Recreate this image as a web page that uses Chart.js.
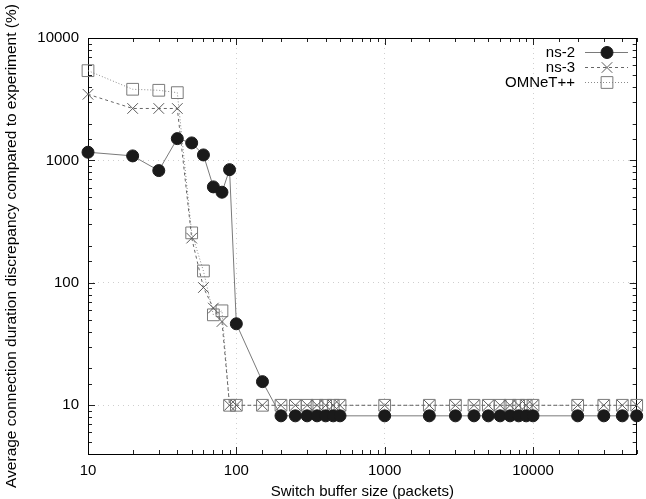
<!DOCTYPE html>
<html>
<head>
<meta charset="utf-8">
<script src="https://cdn.jsdelivr.net/npm/chart.js@4/dist/chart.umd.min.js"></script>
<style>
	body { margin: 0; background: #fff; }
	canvas { display: block; }
</style>
</head>
<body>
<canvas id="canvas-chart-buffer" width="646" height="499"></canvas>
<script>
var buffers=[10,20,30,40,50,60,70,80,90,100,150,200,250,300,350,400,450,500,1000,2000,3000,4000,5000,6000,7000,8000,9000,10000,20000,30000,40000,50000];
var valoresNs2=[1167,1089,826,1507,1390,1109,608,550,841,46.3,15.6,8.2,8.2,8.2,8.2,8.2,8.2,8.2,8.2,8.2,8.2,8.2,8.2,8.2,8.2,8.2,8.2,8.2,8.2,8.2,8.2,8.2];
var valoresNs3=[3470,2657,2657,2657,232,91.6,62.2,48.3,10,10,10,10,10,10,10,10,10,10,10,10,10,10,10,10,10,10,10,10,10,10,10,10];
var valoresOmnet=[5410,3813,3741,3578,256,125,54.8,59.1,10,10,10,10,10,10,10,10,10,10,10,10,10,10,10,10,10,10,10,10,10,10,10,10];
var etiquetas=['ns-2','ns-3','OMNeT++'];
var ticksX=[10,100,1000,10000];
var ticksY=[10,100,1000,10000];

var fuente="'Liberation Sans', Arial, sans-serif";

function puntos(valores){
	return buffers.map(function(b,i){ return {x:b, y:valores[i]}; });
}
function esMayor(v){
	var l=Math.log10(v);
	return Math.abs(l-Math.round(l))<1e-9;
}

// marco, ticks hacia dentro (estilo gnuplot) y leyenda
const pluginMarco = {
	id: 'marco',
	beforeDatasetsDraw: function(chart){
		const ctx=chart.ctx, a=chart.chartArea;
		const sx=chart.scales.x, sy=chart.scales.y;
		ctx.save();
		ctx.strokeStyle='#222';
		ctx.lineWidth=1;
		sx.ticks.forEach(function(t){
			var px=Math.round(sx.getPixelForValue(t.value))+0.5;
			var l=esMayor(t.value)?7:4;
			ctx.beginPath();
			ctx.moveTo(px,a.bottom); ctx.lineTo(px,a.bottom-l);
			ctx.moveTo(px,a.top); ctx.lineTo(px,a.top+l);
			ctx.stroke();
		});
		sy.ticks.forEach(function(t){
			var py=Math.round(sy.getPixelForValue(t.value))+0.5;
			var l=esMayor(t.value)?7:4;
			ctx.beginPath();
			ctx.moveTo(a.left,py); ctx.lineTo(a.left+l,py);
			ctx.moveTo(a.right,py); ctx.lineTo(a.right-l,py);
			ctx.stroke();
		});
		ctx.strokeStyle='#000';
		ctx.strokeRect(Math.round(a.left)+0.5,Math.round(a.top)+0.5,Math.round(a.right-a.left)-1,Math.round(a.bottom-a.top));
		ctx.restore();
	},
	afterDatasetsDraw: function(chart){
		const ctx=chart.ctx;
		ctx.save();
		ctx.font='15px '+fuente;
		ctx.textAlign='right';
		ctx.textBaseline='middle';
		chart.data.datasets.forEach(function(ds,i){
			var y=52.5+i*15;
			ctx.fillStyle='#000';
			ctx.fillText(ds.label,575,y);
			ctx.strokeStyle=ds.borderColor;
			ctx.lineWidth=1;
			ctx.setLineDash(ds.borderDash||[]);
			ctx.beginPath();
			ctx.moveTo(585,y); ctx.lineTo(628,y);
			ctx.stroke();
			ctx.setLineDash([]);
			ctx.fillStyle=ds.pointBackgroundColor;
			ctx.strokeStyle=ds.pointBorderColor;
			Chart.helpers.drawPoint(ctx,{
				pointStyle: ds.pointStyle,
				radius: ds.pointRadius,
				borderWidth: 1,
				rotation: 0
			},607,y);
		});
		ctx.restore();
	}
};

const canvasBuffer = document.getElementById('canvas-chart-buffer').getContext('2d');
var chartBuffer = new Chart(canvasBuffer, {
	type: 'line',
	data: {
		datasets: [{
			label: etiquetas[0],
			data: puntos(valoresNs2),
			borderColor: '#7a7a7a',
			borderWidth: 1,
			pointStyle: 'circle',
			pointRadius: 6,
			pointBackgroundColor: '#1a1a1a',
			pointBorderColor: '#1a1a1a',
			pointBorderWidth: 1,
			fill: false,
			tension: 0,
			clip: false
		},
		{
			label: etiquetas[1],
			data: puntos(valoresNs3),
			borderColor: '#666666',
			borderDash: [3,3],
			borderWidth: 1,
			pointStyle: 'crossRot',
			pointRadius: 7.5,
			pointBackgroundColor: 'rgba(0,0,0,0)',
			pointBorderColor: '#5a5a5a',
			pointBorderWidth: 1,
			fill: false,
			tension: 0,
			clip: false
		},
		{
			label: etiquetas[2],
			data: puntos(valoresOmnet),
			borderColor: '#8a8a8a',
			borderDash: [1,2],
			borderWidth: 1,
			pointStyle: 'rect',
			pointRadius: 8.3,
			pointBackgroundColor: 'rgba(0,0,0,0)',
			pointBorderColor: '#7a7a7a',
			pointBorderWidth: 1,
			fill: false,
			tension: 0,
			clip: false
		}]
	},
	options: {
		responsive: false,
		animation: false,
		devicePixelRatio: 1,
		layout: { padding: { top: 38, right: 2, left: 0, bottom: 0 } },
		plugins: {
			legend: { display: false },
			tooltip: { enabled: false }
		},
		scales: {
			x: {
				type: 'logarithmic',
				min: 10,
				max: 50000,
				afterFit: function(s){ s.height=45; },
				border: { display: false, dash: [1,4] },
				grid: {
					drawTicks: false,
					color: function(c){ return (c.tick && ticksX.indexOf(c.tick.value)>=0) ? '#cfcfcf' : 'rgba(0,0,0,0)'; }
				},
				ticks: {
					autoSkip: false,
					maxRotation: 0,
					padding: 8,
					color: '#000',
					font: { family: fuente, size: 15 },
					callback: function(v){ return ticksX.indexOf(v)>=0 ? String(v) : ''; }
				},
				title: {
					display: true,
					text: 'Switch buffer size (packets)',
					color: '#000',
					font: { family: fuente, size: 15, lineHeight: 1 },
					padding: { top: 0, bottom: 0 }
				}
			},
			y: {
				type: 'logarithmic',
				min: 4,
				max: 10000,
				afterFit: function(s){ s.width=88; },
				border: { display: false, dash: [1,4] },
				grid: {
					drawTicks: false,
					color: function(c){ return (c.tick && ticksY.indexOf(c.tick.value)>=0) ? '#cfcfcf' : 'rgba(0,0,0,0)'; }
				},
				ticks: {
					autoSkip: false,
					padding: 9,
					color: '#000',
					font: { family: fuente, size: 15 },
					callback: function(v){ return ticksY.indexOf(v)>=0 ? String(v) : ''; }
				},
				title: {
					display: true,
					text: 'Average connection duration discrepancy compared to experiment (%)',
					color: '#000',
					font: { family: fuente, size: 15.5, lineHeight: 1 },
					padding: { top: 4, bottom: 0 }
				}
			}
		}
	},
	plugins: [pluginMarco]
});
</script>
</body>
</html>
